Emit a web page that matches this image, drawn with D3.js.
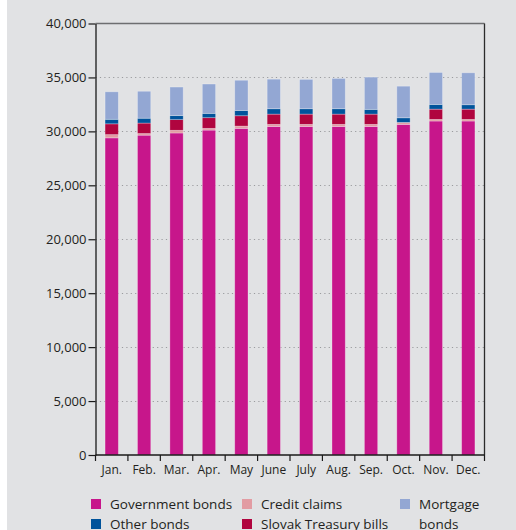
<!DOCTYPE html>
<html>
<head>
<meta charset="utf-8">
<script src="https://cdn.jsdelivr.net/npm/d3@7"></script>
<style>
  html, body { margin: 0; padding: 0; background: #ffffff; }
  svg { display: block; }
  text { font-family: "Open Sans", "Noto Sans", sans-serif; fill: #231f20; }
</style>
</head>
<body>
<svg id="chart" width="516" height="530"></svg>
<script>
// Monthly composition of eligible collateral (stacked, EUR millions)
const months = ["Jan.", "Feb.", "Mar.", "Apr.", "May", "June", "July", "Aug.", "Sep.", "Oct.", "Nov.", "Dec."];

const governmentBonds = [29400, 29650, 29850, 30120, 30280, 30460, 30460, 30460, 30460, 30650, 30960, 30960];
const creditClaims    = [  300,   150,   250,   160,   210,   190,   190,   190,   190,   180,   150,   150];
const treasuryBills   = [ 1000,   970,   990,   990,   960,   950,   950,   950,   950,     0,   950,   950];
const otherBonds      = [  420,   450,   370,   400,   490,   500,   500,   500,   440,   430,   440,   410];
const mortgageBonds   = [ 2550,  2500,  2650,  2720,  2800,  2740,  2720,  2810,  2990,  2930,  2960,  2960];

const yTicks = [0, 5000, 10000, 15000, 20000, 25000, 30000, 35000, 40000];

// Stack order, bottom to top
const series = [
  { key: "gov",    name: "Government bonds",      values: governmentBonds, color: "#c7168b" },
  { key: "credit", name: "Credit claims",         values: creditClaims,    color: "#e29ca3" },
  { key: "stb",    name: "Slovak Treasury bills", values: treasuryBills,   color: "#b0053f" },
  { key: "other",  name: "Other bonds",           values: otherBonds,      color: "#00539b" },
  { key: "mort",   name: "Mortgage bonds",        values: mortgageBonds,   color: "#93a7d3" }
];

const table = months.map((m, i) => {
  const row = { month: m };
  series.forEach(s => { row[s.key] = s.values[i]; });
  return row;
});

const svg = d3.select("#chart");
const W = 516, H = 530;
const margin = { left: 95.5, right: 31.5, top: 23.5, bottom: 75 };
const innerRight = W - margin.right;
const innerBottom = H - margin.bottom;

// panel background
svg.append("rect").attr("x", 7).attr("y", 0).attr("width", W - 7).attr("height", H).attr("fill", "#e1e2e4");

const x = d3.scaleBand().domain(months).range([margin.left, innerRight]).paddingInner(0.59).paddingOuter(0.295);
const y = d3.scaleLinear().domain([0, 40000]).range([innerBottom, margin.top]);

// dotted grid lines
svg.append("g")
  .selectAll("line")
  .data(yTicks.filter(t => t > 0 && t < 40000))
  .join("line")
  .attr("x1", margin.left).attr("x2", innerRight)
  .attr("y1", d => Math.round(y(d)) + 0.5).attr("y2", d => Math.round(y(d)) + 0.5)
  .attr("stroke", "#9a9b9e").attr("stroke-width", 1)
  .attr("stroke-dasharray", "1.2,3.2");

// top and right frame
svg.append("line").attr("x1", margin.left).attr("x2", innerRight)
  .attr("y1", y(40000)).attr("y2", y(40000))
  .attr("stroke", "#6d6e70").attr("stroke-width", 1.5);
svg.append("line").attr("x1", innerRight).attr("x2", innerRight)
  .attr("y1", y(40000)).attr("y2", innerBottom)
  .attr("stroke", "#2b2b2b").attr("stroke-width", 1.3);

// stacked bars
const stack = d3.stack().keys(series.map(s => s.key));
const layers = stack(table);

svg.append("g")
  .selectAll("g")
  .data(layers)
  .join("g")
  .attr("fill", (d, i) => series[i].color)
  .selectAll("rect")
  .data(d => d)
  .join("rect")
  .attr("x", d => x(d.data.month))
  .attr("width", x.bandwidth())
  .attr("y", d => y(d[1]))
  .attr("height", d => Math.max(0, y(d[0]) - y(d[1])))
  .attr("stroke", "rgba(255,255,255,0.35)")
  .attr("stroke-width", 0.8);

// y axis
const yAxis = d3.axisLeft(y).tickValues(yTicks).tickFormat(d3.format(",")).tickSize(7).tickSizeOuter(0);
const gy = svg.append("g").attr("transform", `translate(${margin.left},0)`).call(yAxis);
gy.select(".domain").attr("stroke", "#1a1a1a").attr("stroke-width", 1.3);
gy.selectAll(".tick line").attr("stroke", "#1a1a1a").attr("stroke-width", 1.2);
gy.selectAll(".tick text").attr("font-size", 13).attr("x", -9).attr("fill", "#231f20");

// x axis: ticks sit at category boundaries
const boundaries = d3.range(months.length + 1).map(i => margin.left + i * (innerRight - margin.left) / months.length);
const gx = svg.append("g");
gx.append("line").attr("x1", margin.left).attr("x2", innerRight)
  .attr("y1", innerBottom).attr("y2", innerBottom)
  .attr("stroke", "#1a1a1a").attr("stroke-width", 1.3);
gx.selectAll("line.tk").data(boundaries).join("line").attr("class", "tk")
  .attr("x1", d => d).attr("x2", d => d)
  .attr("y1", innerBottom).attr("y2", innerBottom + 6)
  .attr("stroke", "#1a1a1a").attr("stroke-width", 1.2);
gx.selectAll("text").data(months).join("text")
  .attr("x", d => x(d) + x.bandwidth() / 2)
  .attr("y", innerBottom + 19)
  .attr("text-anchor", "middle")
  .attr("font-size", 12)
  .text(d => d);

// legend
const legendItems = [
  { s: series[0], x: 91,  y: 504, lines: ["Government bonds"] },
  { s: series[1], x: 242, y: 504, lines: ["Credit claims"] },
  { s: series[4], x: 400, y: 504, lines: ["Mortgage", "bonds"] },
  { s: series[3], x: 91,  y: 524, lines: ["Other bonds"] },
  { s: series[2], x: 242, y: 524, lines: ["Slovak Treasury bills"] }
];
const lg = svg.append("g");
legendItems.forEach(it => {
  lg.append("rect").attr("x", it.x).attr("y", it.y - 5).attr("width", 10).attr("height", 10).attr("fill", it.s.color);
  const t = lg.append("text").attr("x", it.x + 19).attr("y", it.y + 5).attr("font-size", 13.5);
  it.lines.forEach((ln, j) => {
    t.append("tspan").attr("x", it.x + 19).attr("dy", j === 0 ? 0 : 20).text(ln);
  });
});
</script>
</body>
</html>
